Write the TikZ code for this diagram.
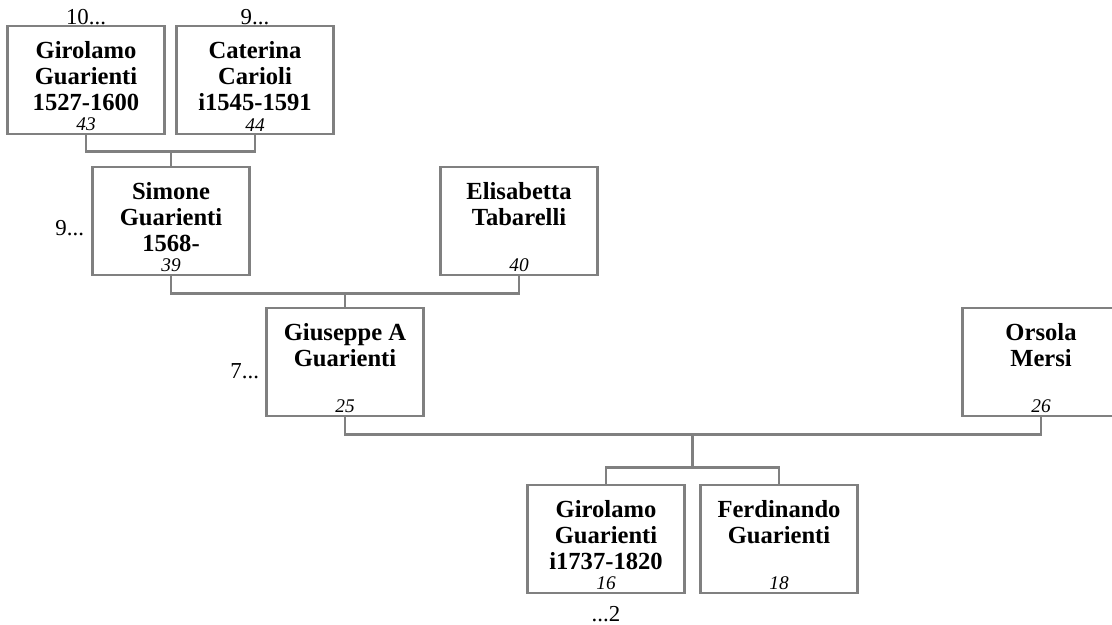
\documentclass[tikz,border=0pt]{standalone}
\usepackage{fontspec}
\setmainfont{Liberation Serif}
\usetikzlibrary{positioning, calc}
\usepackage{xcolor}
\definecolor{frame}{RGB}{128,128,128}

\begin{document}
\begin{tikzpicture}[
    x=0.02cm, y=-0.02cm,
    person/.style={rectangle, draw=frame, line width=1.6pt, minimum width=3.13cm, minimum height=2.16cm, inner sep=0pt},
    pname/.style={font=\fontsize{14}{15}\selectfont\bfseries, align=center, inner sep=0pt},
    pnum/.style={font=\fontsize{11}{13}\selectfont\itshape, inner sep=0pt},
    more/.style={font=\fontsize{13}{15}\selectfont, inner sep=0pt},
    link/.style={draw=frame, line width=1.6pt},
]
\clip (0,0) rectangle (1112,625);

% Great-grandparents
\node[person] (g43) at (86,80) {};
\node[person] (c44) at (255,80) {};
% Grandparents
\node[person] (s39) at (171,221) {};
\node[person] (e40) at (519,221) {};
% Parents
\node[person] (g25) at (345,362) {};
\node[person] (o26) at (1041,362) {};
% Children
\node[person] (g16) at (606,539) {};
\node[person] (f18) at (779,539) {};

% Names
\node[pname, below=0.32cm of g43.north] (g43n) {Girolamo\\Guarienti\\1527-1600};
\node[pname, below=0.32cm of c44.north] (c44n) {Caterina\\Carioli\\i1545-1591};
\node[pname, below=0.32cm of s39.north] (s39n) {Simone\\Guarienti\\1568-};
\node[pname, below=0.32cm of e40.north] (e40n) {Elisabetta\\Tabarelli};
\node[pname, below=0.32cm of g25.north] (g25n) {Giuseppe A\\Guarienti};
\node[pname, below=0.32cm of o26.north] (o26n) {Orsola\\Mersi};
\node[pname, below=0.32cm of g16.north] (g16n) {Girolamo\\Guarienti\\i1737-1820};
\node[pname, below=0.32cm of f18.north] (f18n) {Ferdinando\\Guarienti};

% Numbers
\node[pnum, above=0.08cm of g43.south] (g43i) {43};
\node[pnum, above=0.08cm of c44.south] (c44i) {44};
\node[pnum, above=0.08cm of s39.south] (s39i) {39};
\node[pnum, above=0.08cm of e40.south] (e40i) {40};
\node[pnum, above=0.08cm of g25.south] (g25i) {25};
\node[pnum, above=0.08cm of o26.south] (o26i) {26};
\node[pnum, above=0.08cm of g16.south] (g16i) {16};
\node[pnum, above=0.08cm of f18.south] (f18i) {18};

% More generations
\node[more, anchor=base] (g43m) at (g43.north) {10...};
\node[more, anchor=base] (c44m) at (c44.north) {9...};
\node[more, anchor=base east] (s39m) at ($(s39.west)+(-7,14)$) {9...};
\node[more, anchor=base east] (g25m) at ($(g25.west)+(-6,16)$) {7...};
\node[more, anchor=base] (g16m) at ($(g16.south)+(0,27)$) {...2};

% Families
\draw[link] (g43.south) -- ++(0,16) coordinate (b1) -| (c44.south);
\draw[link] (s39.north) -- (s39.north |- b1);
\draw[link] (s39.south) -- ++(0,17) coordinate (b2) -| (e40.south);
\draw[link] (g25.north) -- (g25.north |- b2);
\draw[link] (g25.south) -- ++(0,17) coordinate (b3) -| (o26.south);
\draw[link] (g16.north) -- ++(0,-16) coordinate (b4) -| (f18.north);
\coordinate (kids) at ($(g16.north)!0.5!(f18.north)$);
\draw[link] (kids |- b4) -- (kids |- b3);

\end{tikzpicture}
\end{document}
